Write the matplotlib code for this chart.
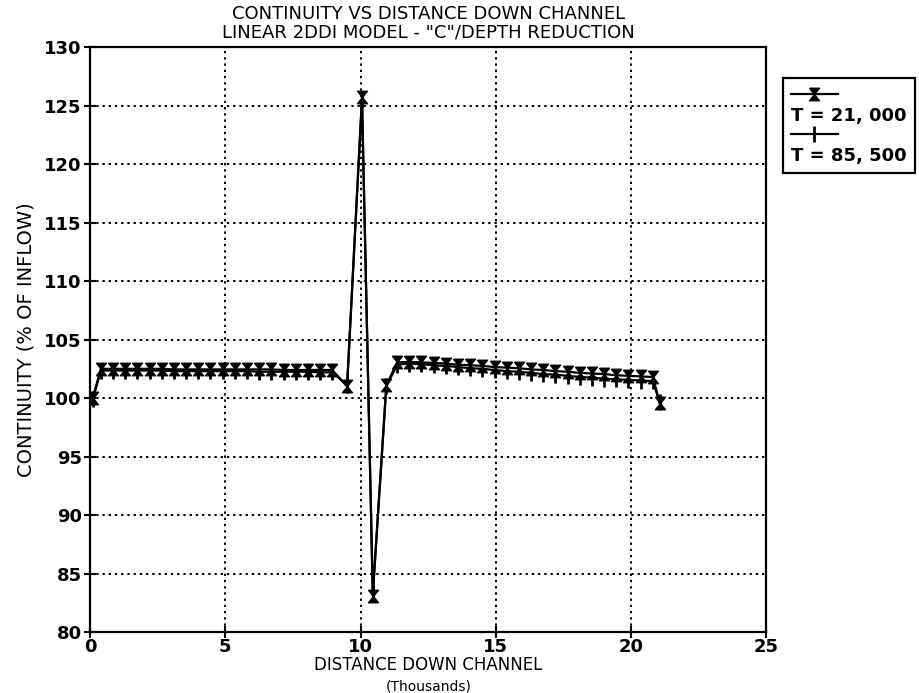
import matplotlib
matplotlib.use("Agg")
import matplotlib.pyplot as plt
from matplotlib.lines import Line2D

plt.rcParams['font.family'] = ['DejaVu Sans']

# distance down channel (thousands)
dist = [0.1, 0.4, 0.85, 1.3, 1.75, 2.2, 2.65, 3.1, 3.55, 4.0, 4.45, 4.9, 5.35,
        5.8, 6.25, 6.7, 7.15, 7.6, 8.05, 8.5, 8.95, 9.5, 10.05, 10.45, 10.95,
        11.35, 11.8, 12.25, 12.7, 13.15, 13.6, 14.05, 14.5, 14.95, 15.4,
        15.85, 16.3, 16.75, 17.2, 17.65, 18.1, 18.55, 19.0, 19.45, 19.9,
        20.35, 20.8, 21.05]

# continuity (% of inflow)
t21000 = [100.0, 102.5, 102.5, 102.5, 102.5, 102.5, 102.5, 102.45, 102.45,
          102.45, 102.45, 102.45, 102.45, 102.45, 102.45, 102.45, 102.4, 102.4,
          102.4, 102.4, 102.4, 101.0, 125.7, 83.1, 101.1,
          103.05, 103.1, 103.05, 103.0, 102.95, 102.85, 102.8, 102.75, 102.65,
          102.6, 102.55, 102.45, 102.4, 102.3, 102.25, 102.15, 102.1, 102.05,
          101.95, 101.9, 101.85, 101.8, 99.6]
t85500 = [99.9, 102.35, 102.35, 102.35, 102.35, 102.35, 102.35, 102.3, 102.3,
          102.3, 102.3, 102.3, 102.3, 102.3, 102.25, 102.25, 102.25, 102.25,
          102.25, 102.2, 102.2, 101.1, 125.5, 83.3, 101.0,
          102.85, 102.95, 102.9, 102.8, 102.75, 102.65, 102.55, 102.5, 102.4,
          102.3, 102.25, 102.15, 102.05, 102.0, 101.9, 101.8, 101.75, 101.65,
          101.6, 101.55, 101.5, 101.45, 99.7]

labels = ["T = 21, 000", "T = 85, 500"]

hourglass = [(-0.8, 1), (0.8, 1), (-0.8, -1), (0.8, -1), (-0.8, 1)]

fig = plt.figure(figsize=(9.19, 6.93), dpi=100)
ax = fig.add_axes([0.098, 0.088, 0.736, 0.844])

ax.plot(dist, t21000, color='black', lw=1.6, marker=hourglass, ms=9,
        mfc='black', mec='black')
ax.plot(dist, t85500, color='black', lw=1.6, marker='|', ms=11, mew=2)

ax.set_xlim(0, 25)
ax.set_ylim(80, 130)
ax.set_xticks([0, 5, 10, 15, 20, 25])
ax.set_yticks(range(80, 131, 5))
ax.grid(True, color='black', linestyle=(0, (1.2, 2)), linewidth=1.4)
for s in ax.spines.values():
    s.set_linewidth(1.6)
ax.tick_params(direction='inout', length=8, width=1.5, labelsize=13, pad=2)
ax.tick_params(axis='x', pad=0)
for t in ax.get_xticklabels() + ax.get_yticklabels():
    t.set_fontweight('bold')

ax.set_title("CONTINUITY VS DISTANCE DOWN CHANNEL\nLINEAR 2DDI MODEL - \"C\"/DEPTH REDUCTION",
             fontsize=13, linespacing=1.0, pad=7)
ax.set_xlabel("DISTANCE DOWN CHANNEL", fontsize=12, labelpad=0)
fig.text(0.466, 0.004, "(Thousands)", ha='center', fontsize=10)
ax.set_ylabel("CONTINUITY (% OF INFLOW)", fontsize=14, labelpad=6)

# legend: handle row above each label row
h1 = Line2D([], [], color='black', lw=1.6, marker=hourglass, ms=9)
h2 = Line2D([], [], color='black', lw=1.6, marker='|', ms=11, mew=2)
blank = Line2D([], [], color='none')
leg = fig.legend([h1, blank, h2, blank], ["", labels[0], "", labels[1]],
                 loc='upper left', bbox_to_anchor=(0.842, 0.9),
                 handlelength=2.6, handletextpad=-2.6, labelspacing=0.12,
                 fancybox=False, edgecolor='black', framealpha=1,
                 borderpad=0.45, prop={'size': 13, 'weight': 'bold'})
leg.get_frame().set_linewidth(1.6)

fig.savefig("out.png", dpi=100)
